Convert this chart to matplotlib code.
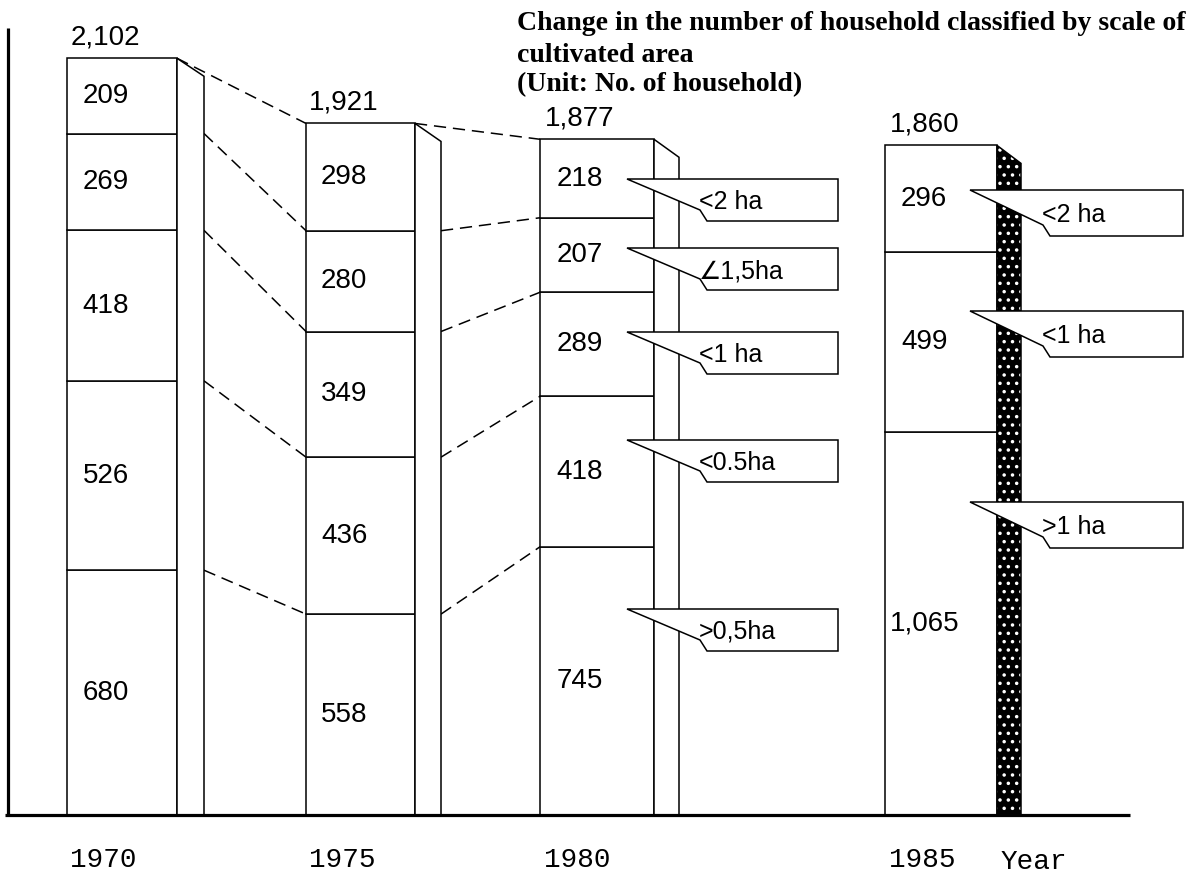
## stacked bar chart: households by scale of cultivated area, 1970-1985
import numpy as np
import matplotlib.pyplot as plt
from matplotlib.patches import Polygon

plt.rcParams['hatch.linewidth'] = 1.3
plt.rcParams['hatch.color'] = 'white'

NARROW = ['Liberation Sans', 'DejaVu Sans']

# data (segments bottom -> top)
years = ['1970', '1975', '1980', '1985']
totals = [2102, 1921, 1877, 1860]
seg_1970 = [680, 526, 418, 269, 209]
seg_1975 = [558, 436, 349, 280, 298]
seg_1980 = [745, 418, 289, 207, 218]
seg_1985 = [1065, 499, 296]
labels_1980 = ['>0,5ha', '<0.5ha', '<1 ha', '\u22201,5ha', '<2 ha']
labels_1985 = ['>1 ha', '<1 ha', '<2 ha']
segments = [seg_1970, seg_1975, seg_1980, seg_1985]

# layout (pixel based)
W, H = 1192, 882
BASE = 815          # pixel row of the baseline
PX = 0.36           # pixels per household
bar_left = [67, 306, 540, 885]
bar_width = [110, 109, 114, 112]
side_width = [27, 26, 25, 24]

def py(p):
    return (BASE - p) / PX

fig = plt.figure(figsize=(W / 100, H / 100), dpi=100)
ax = fig.add_axes([0, 0, 1, 1])
ax.set_xlim(0, W)
ax.set_ylim(py(H), py(0))
ax.axis('off')

# axes lines
ax.plot([8, 8], [0, py(28)], color='black', lw=2.3, solid_capstyle='butt', zorder=5)
ax.plot([5, 1130], [0, 0], color='black', lw=2.3, solid_capstyle='butt', zorder=5)

drop = 18 / PX
for i, segs in enumerate(segments):
    segs = np.array(segs)
    bottoms = np.concatenate([[0], np.cumsum(segs)[:-1]])
    ax.bar([bar_left[i]] * len(segs), segs, width=bar_width[i], bottom=bottoms,
           align='edge', facecolor='white', edgecolor='black', linewidth=1.1, zorder=2)
    top = segs.sum()
    xr = bar_left[i] + bar_width[i]
    xs = xr + side_width[i]
    pts = [(xr, top), (xs, top - drop), (xs, 0), (xr, 0)]
    if i == 3:
        ax.add_patch(Polygon(pts, closed=True, facecolor='black', edgecolor='white',
                             hatch='..', lw=0, zorder=2))
        ax.add_patch(Polygon(pts, closed=True, facecolor='none', edgecolor='black',
                             lw=1.1, zorder=2))
    else:
        ax.add_patch(Polygon(pts, closed=True, facecolor='white', edgecolor='black',
                             lw=1.1, zorder=2))
    # values inside the segments
    cx = bar_left[i] + 0.35 * bar_width[i]
    for b, v in zip(bottoms, segs):
        ax.text(cx, b + v / 2, f'{v:,}', ha='center', va='center',
                family=NARROW, fontsize=20, zorder=3)
    ax.text(cx, top + 8 / PX, f'{totals[i]:,}', ha='center', va='bottom',
            family=NARROW, fontsize=20, zorder=3)
    ax.text(bar_left[i] + 0.33 * bar_width[i], py(860), years[i], ha='center',
            va='center', family='Liberation Mono', fontsize=20)

ax.text(1034, py(862), 'Year', ha='center', va='center', family='Liberation Mono', fontsize=20)

# dashed connectors 1970->1975->1980
for i in range(2):
    cl = np.cumsum(segments[i])
    cr = np.cumsum(segments[i + 1])
    xr = bar_left[i] + bar_width[i]
    xs = xr + side_width[i]
    xn = bar_left[i + 1]
    for k in range(len(cl)):
        x0 = xr if k == len(cl) - 1 else xs
        ax.plot([x0, xn], [cl[k], cr[k]], color='black', lw=1.1,
                ls=(0, (8, 4.5)), zorder=1)

# callouts
def callout(tx, ty, xright, h, text):
    hu = h / PX
    pts = [(tx, ty), (xright, ty), (xright, ty - hu), (tx + 80, ty - hu),
           (tx + 73, ty - (h - 11) / PX)]
    ax.add_patch(Polygon(pts, closed=True, facecolor='white', edgecolor='black',
                         lw=1.1, zorder=4))
    ax.text(tx + 72, ty - (h / 2 + 2) / PX, text, ha='left', va='center',
            family=NARROW, fontsize=18, zorder=5)

tips_1980 = [609, 440, 332, 248, 179]
for lab, t in zip(labels_1980, tips_1980):
    xr = bar_left[2] + bar_width[2]
    callout(xr - 27, py(t), xr + 184, 42, lab)

tips_1985 = [502, 311, 190]
for lab, t in zip(labels_1985, tips_1985):
    xr = bar_left[3] + bar_width[3]
    callout(xr - 27, py(t), xr + 186, 46, lab)

# title
title_lines = ['Change in the number of household classified by scale of',
               'cultivated area', '(Unit: No. of household)']
for line, y in zip(title_lines, [23, 55, 85]):
    ax.text(517, py(y), line, ha='left', va='center', family='Liberation Serif',
            fontweight='bold', fontsize=20)

fig.savefig('out.png', dpi=100)
